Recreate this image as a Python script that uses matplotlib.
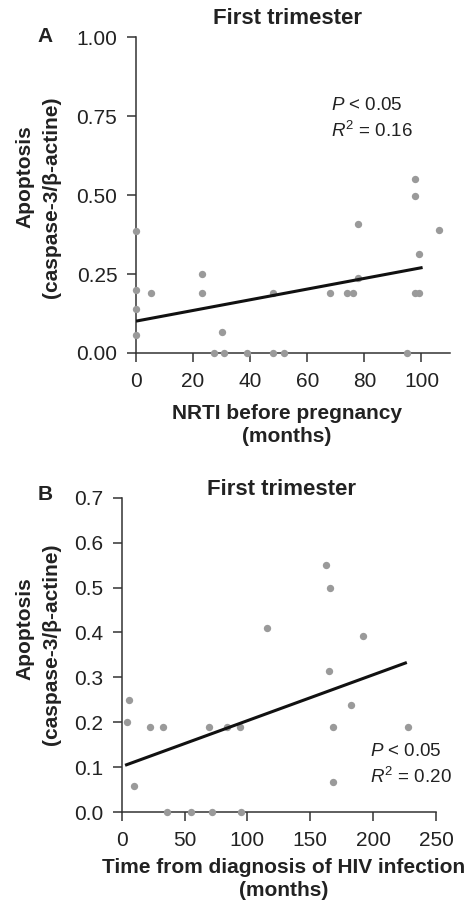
import matplotlib
matplotlib.use("Agg")
import matplotlib.pyplot as plt
import numpy as np

plt.rcParams['font.family'] = ['Liberation Sans', 'DejaVu Sans']
plt.rcParams['mathtext.fontset'] = 'custom'
plt.rcParams['mathtext.rm'] = 'Liberation Sans'
plt.rcParams['mathtext.it'] = 'Liberation Sans:italic'
plt.rcParams['mathtext.bf'] = 'Liberation Sans:bold'

# ---- Panel A data ----
a_x = [0, 0, 0, 0, 5.2, 23.1, 23.1, 30.1, 27.2, 31.0, 39.0, 48.0, 48.0, 52.0,
       67.9, 74.0, 76.0, 77.9, 77.9, 94.8, 97.8, 97.8, 97.8, 99.2, 99.2, 106.0]
a_y = [0.386, 0.200, 0.140, 0.058, 0.189, 0.249, 0.189, 0.066, 0.0, 0.0, 0.0, 0.189, 0.0, 0.0,
       0.189, 0.189, 0.189, 0.409, 0.238, 0.0, 0.550, 0.497, 0.189, 0.189, 0.314, 0.391]
a_fit_x = [0, 100.4]
a_fit_y = [0.101, 0.271]
a_xticks = [0, 20, 40, 60, 80, 100]
a_yticks = [0.00, 0.25, 0.50, 0.75, 1.00]

# ---- Panel B data ----
b_x = [4.0, 5.8, 9.6, 22.8, 32.6, 35.8, 54.9, 71.9, 69.8, 83.8, 93.9, 95.0,
       115.9, 162.9, 165.8, 165.0, 167.9, 167.9, 182.0, 192.0, 228.1]
b_y = [0.200, 0.250, 0.059, 0.190, 0.190, 0.0, 0.0, 0.0, 0.190, 0.190, 0.190, 0.0,
       0.409, 0.550, 0.498, 0.313, 0.190, 0.066, 0.239, 0.392, 0.190]
b_fit_x = [2.7, 226.8]
b_fit_y = [0.104, 0.333]
b_xticks = [0, 50, 100, 150, 200, 250]
b_yticks = [0.0, 0.1, 0.2, 0.3, 0.4, 0.5, 0.6, 0.7]

W, H = 469, 902
fig = plt.figure(figsize=(W / 100, H / 100), dpi=100)

def px_axes(l, r, t, b):
    return fig.add_axes([l / W, 1 - b / H, (r - l) / W, (b - t) / H])

axA = px_axes(136, 450, 37.5, 353)
axB = px_axes(121.7, 436, 497.7, 812)

dot_color = '#9a9a9a'
spine_color = '#333333'
TICK_FS = 15

def style(ax):
    for s in ['top', 'right']:
        ax.spines[s].set_visible(False)
    for s in ['left', 'bottom']:
        ax.spines[s].set_linewidth(1.1)
        ax.spines[s].set_color(spine_color)
    ax.tick_params(direction='out', length=6.5, width=1.1, colors=spine_color,
                   labelcolor='#222222', labelsize=TICK_FS, pad=7)

# Panel A
axA.scatter(a_x, a_y, s=28, color=dot_color, zorder=3, clip_on=False, linewidths=0)
axA.plot(a_fit_x, a_fit_y, color='#111111', lw=2.2, zorder=4, solid_capstyle='butt')
axA.set_xlim(0, 110)
axA.set_ylim(0, 1.0)
axA.set_xticks(a_xticks)
axA.set_yticks(a_yticks)
axA.set_yticklabels([f"{v:.2f}" for v in a_yticks])
style(axA)
axA.text(68.2, 0.785, r"$\mathit{P}$ < 0.05", fontsize=13.5, va='center', ha='left', color='#222222')
axA.text(68.2, 0.705, r"$\mathit{R}^2$ = 0.16", fontsize=13.5, va='center', ha='left', color='#222222')

# Panel B
axB.scatter(b_x, b_y, s=28, color=dot_color, zorder=3, clip_on=False, linewidths=0)
axB.plot(b_fit_x, b_fit_y, color='#111111', lw=2.2, zorder=4, solid_capstyle='butt')
axB.set_xlim(0, 250)
axB.set_ylim(0, 0.7)
axB.set_xticks(b_xticks)
axB.set_yticks(b_yticks)
axB.set_yticklabels([f"{v:.1f}" for v in b_yticks])
style(axB)
axB.text(197.5, 0.134, r"$\mathit{P}$ < 0.05", fontsize=13.5, va='center', ha='left', color='#222222')
axB.text(197.5, 0.079, r"$\mathit{R}^2$ = 0.20", fontsize=13.5, va='center', ha='left', color='#222222')

def ftext(x, y, s, **kw):
    fig.text(x / W, 1 - y / H, s, **kw)

txt = dict(color='#222222', fontweight='bold')
ftext(287, 24, "First trimester", fontsize=16, ha='center', va='baseline', **txt)
ftext(281, 495, "First trimester", fontsize=16, ha='center', va='baseline', **txt)
ftext(45, 37, "A", fontsize=15, ha='center', va='center', **txt)
ftext(45, 494, "B", fontsize=15, ha='center', va='center', **txt)

LAB_FS = 15
# y labels (two lines each)
ftext(25, 177, "Apoptosis", fontsize=LAB_FS, rotation=90, ha='center', va='center', **txt)
ftext(52, 197, "(caspase-3/β-actine)", fontsize=LAB_FS, rotation=90, ha='center', va='center', **txt)
ftext(25, 629, "Apoptosis", fontsize=LAB_FS, rotation=90, ha='center', va='center', **txt)
ftext(52, 644, "(caspase-3/β-actine)", fontsize=LAB_FS, rotation=90, ha='center', va='center', **txt)

# x labels (two lines each)
ftext(287, 419, "NRTI before pregnancy", fontsize=LAB_FS, ha='center', va='baseline', **txt)
ftext(287, 442, "(months)", fontsize=LAB_FS, ha='center', va='baseline', **txt)
ftext(283.5, 873, "Time from diagnosis of HIV infection", fontsize=LAB_FS, ha='center', va='baseline', **txt)
ftext(283.5, 896, "(months)", fontsize=LAB_FS, ha='center', va='baseline', **txt)

fig.savefig("out.png", dpi=100, facecolor='white')
